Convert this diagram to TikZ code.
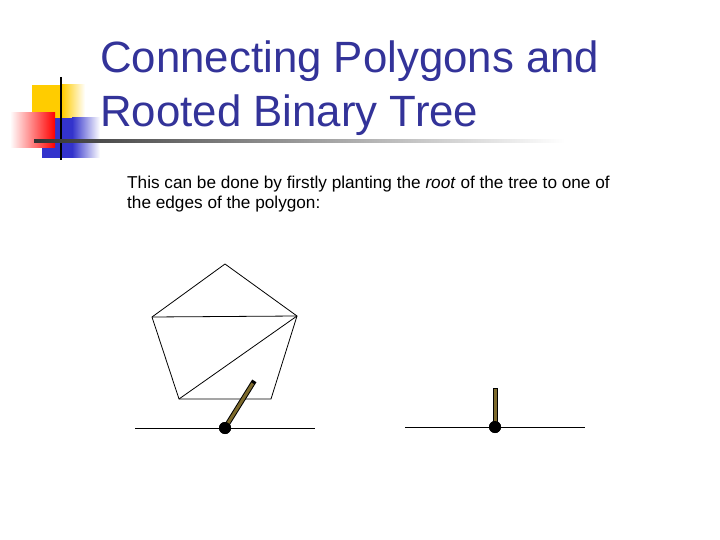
\documentclass[tikz,border=0pt]{standalone}
\usepackage{fontspec}
\setmainfont{Liberation Sans}
\usetikzlibrary{positioning,calc}
\definecolor{titleblue}{HTML}{333399}
\definecolor{stick}{HTML}{7D6A2C}
\definecolor{logoyellow}{HTML}{FFCC00}
\definecolor{logoblue}{HTML}{3333CC}

\begin{document}
\begin{tikzpicture}[x=1pt, y=-1pt,
        title/.style={anchor=base west, inner sep=0pt, text=titleblue, font=\fontsize{43.8}{52}\selectfont},
        body/.style={anchor=base west, inner sep=0pt, font=\fontsize{17.2}{20}\selectfont},
        edge/.style={draw, line width=0.8pt},
        ground/.style={draw, line width=0.9pt},
        root/.style={circle, fill=black, inner sep=0pt, minimum size=12pt}
        ]
        \useasboundingbox[fill=white] (0,0) rectangle (720,540);
        % logo
        \fill[logoyellow] (32,85) rectangle (62,120);
        \shade[left color=logoyellow, right color=white] (62,85) rectangle (85,120);
        \fill[logoblue] (42,118) rectangle (72,158);
        \shade[left color=logoblue, right color=white] (72,118) rectangle (100,158);
        \shade[left color=white, right color=red] (10,113) rectangle (55,148);
        \draw[line width=2.5pt] (61,77) -- (61,160);
        \shade[left color=black!80, right color=white] (34,139.5) rectangle (565,142.5);
        % text
        \node[title] (t1) at (100,73) {Connecting Polygons and};
        \node[title] (t2) at (100,127) {Rooted Binary Tree};
        \node[body] (b1) at (127,189) {This can be done by firstly planting the \textit{root} of the tree to one of};
        \node[body] (b2) at (127,208) {the edges of the polygon:};
        % polygon
        \coordinate (pt) at (225,264);
        \coordinate (pl) at (152,317);
        \coordinate (pr) at (297,316);
        \coordinate (pbl) at (179,399);
        \coordinate (pbr) at (271,399);
        \draw[edge] (pt) -- (pr) -- (pbr) -- (pbl) -- (pl) -- cycle;
        \draw[edge] (pl) -- (pr);
        \draw[edge] (pr) -- (pbl);
        % planted root, left
        \coordinate (g1a) at (135,428);
        \coordinate (g1b) at (315,428);
        \draw[ground] (g1a) -- (g1b);
        \node[root] (r1) at (225,428) {};
        \coordinate (s1) at (253,383);
        \draw[line width=5pt, line cap=rect] (r1.center) -- (s1);
        \draw[line width=3pt, stick, shorten >=0.5pt] (r1.center) -- (s1);
        \node[root] at (r1) {};
        % planted root, right
        \coordinate (g2a) at (405,427);
        \coordinate (g2b) at (585,427);
        \draw[ground] (g2a) -- (g2b);
        \node[root] (r2) at (495,427) {};
        \coordinate (s2) at (495,388);
        \draw[line width=5pt] (r2.center) -- (s2);
        \draw[line width=3pt, stick, shorten >=1pt] (r2.center) -- (s2);
        \node[root] at (r2) {};
\end{tikzpicture}
\end{document}
